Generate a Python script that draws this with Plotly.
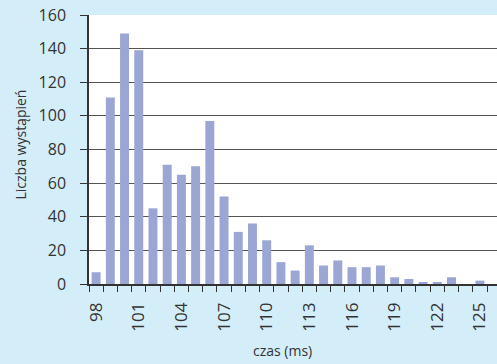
import plotly.graph_objects as go

czas_ms = list(range(98, 126))
liczba = [7, 111, 149, 139, 45, 71, 65, 70, 97, 52, 31, 36, 26, 13, 8, 23,
          11, 14, 10, 10, 11, 4, 3, 1, 1, 4, 0, 2]
tick_vals = [98, 101, 104, 107, 110, 113, 116, 119, 122, 125]
tick_text = [str(v) for v in tick_vals]
y_ticks = [0, 20, 40, 60, 80, 100, 120, 140, 160]

BG = "#d3edf9"
TXT = "#333333"
FONT = "Open Sans"

fig = go.Figure(go.Bar(x=czas_ms, y=liczba, marker=dict(color="#9ba6d4", line_width=0),
                       width=0.63, hoverinfo="skip"))

fig.update_layout(
    width=497, height=364,
    margin=dict(l=89, r=0, t=15, b=80),
    paper_bgcolor=BG, plot_bgcolor="white",
    font=dict(family=FONT, color=TXT, size=16),
    showlegend=False,
    xaxis=dict(
        range=[97.5, 126.2], tickmode="array", tickvals=tick_vals, ticktext=tick_text,
        tickangle=-90, ticks="", showgrid=False, zeroline=False,
        showline=True, linecolor="#333333", linewidth=1.5,
        tickfont=dict(size=17, color=TXT), ticklabelstandoff=10,
        minor=dict(tickmode="linear", tick0=97.5, dtick=1, ticks="outside",
                   ticklen=6, tickcolor="#333333", tickwidth=1, showgrid=False),
    ),
    yaxis=dict(
        range=[0, 160], tickmode="array", tickvals=y_ticks,
        ticks="outside", ticklen=7, tickcolor="#333333",
        showgrid=True, gridcolor="#555555", gridwidth=1, zeroline=False,
        showline=True, linecolor="#333333", linewidth=1.5,
        tickfont=dict(size=16, color=TXT), ticklabelstandoff=11,
    ),
    annotations=[
        dict(text="czas (ms)", xref="paper", yref="paper", x=0.475, y=0,
             yshift=-66, showarrow=False, yanchor="middle", xanchor="center",
             font=dict(size=14, color=TXT, family=FONT)),
        dict(text="Liczba wystąpień", xref="paper", yref="paper", x=0, y=0.5,
             xshift=-69, yshift=5, textangle=-90, showarrow=False,
             xanchor="center", yanchor="middle",
             font=dict(size=14, color=TXT, family=FONT)),
    ],
)

fig.write_html("out.html", config={"displayModeBar": False},
               post_script="document.body.style.margin='0';document.body.style.background='%s';" % BG)
